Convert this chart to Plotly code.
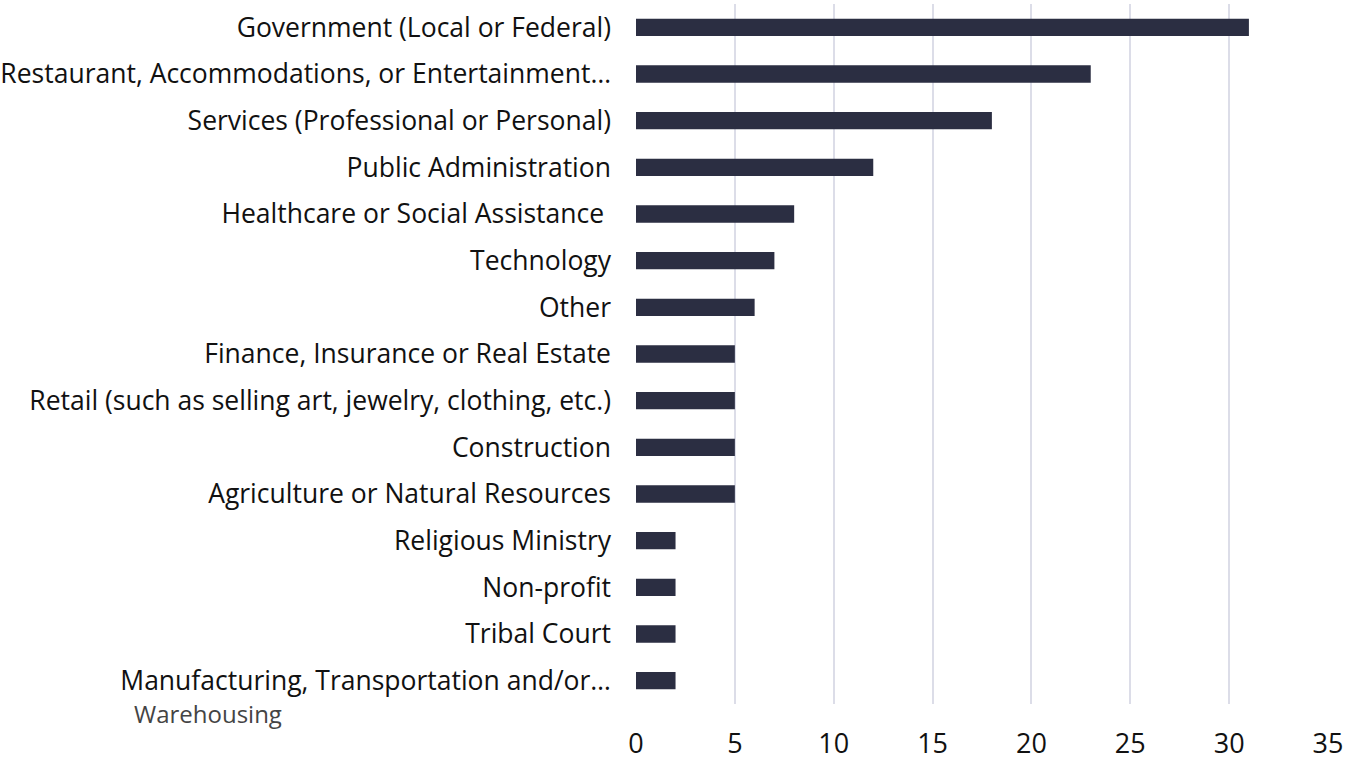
import plotly.graph_objects as go

categories = [
    "Government (Local or Federal)",
    "Restaurant, Accommodations, or Entertainment…",
    "Services (Professional or Personal)",
    "Public Administration",
    "Healthcare or Social Assistance ",
    "Technology",
    "Other",
    "Finance, Insurance or Real Estate",
    "Retail (such as selling art, jewelry, clothing, etc.)",
    "Construction",
    "Agriculture or Natural Resources",
    "Religious Ministry",
    "Non-profit",
    "Tribal Court",
    "Manufacturing, Transportation and/or…",
]
values = [31, 23, 18, 12, 8, 7, 6, 5, 5, 5, 5, 2, 2, 2, 2]
x_ticks = [0, 5, 10, 15, 20, 25, 30, 35]
extra_note = "Warehousing"

FONT = "'Open Sans', Lato, sans-serif"

fig = go.Figure(go.Bar(
    x=values, y=categories, orientation="h",
    marker=dict(color="#2b2e42", line=dict(width=0)),
))

fig.update_layout(
    width=1359, height=761,
    margin=dict(l=636, r=31, t=4, b=57),
    paper_bgcolor="white", plot_bgcolor="white",
    bargap=0.63,
    showlegend=False,
    font=dict(family=FONT, color="#111111"),
    xaxis=dict(
        range=[0, 35], tickvals=x_ticks, ticktext=[str(v) for v in x_ticks],
        showgrid=True, gridcolor="#dcdde8", gridwidth=2,
        zeroline=False, showline=False, automargin=False,
        tickfont=dict(size=27, color="#111111"),
        ticklabelstandoff=21,
    ),
    yaxis=dict(
        categoryorder="array", categoryarray=categories[::-1],
        showgrid=False, zeroline=False, showline=False, automargin=False,
        tickfont=dict(size=26.5, color="#111111"),
        ticklabelstandoff=24,
    ),
    annotations=[dict(
        text=extra_note, xref="paper", yref="paper",
        x=(132 - 636) / 692, y=0, xanchor="left", yanchor="top",
        yshift=9, showarrow=False,
        font=dict(family=FONT, size=24, color="#444444"),
    )],
)

fig.write_html(
    "out.html",
    config={"displayModeBar": False},
    post_script="document.body.style.margin='0';document.body.style.overflow='hidden';",
)
